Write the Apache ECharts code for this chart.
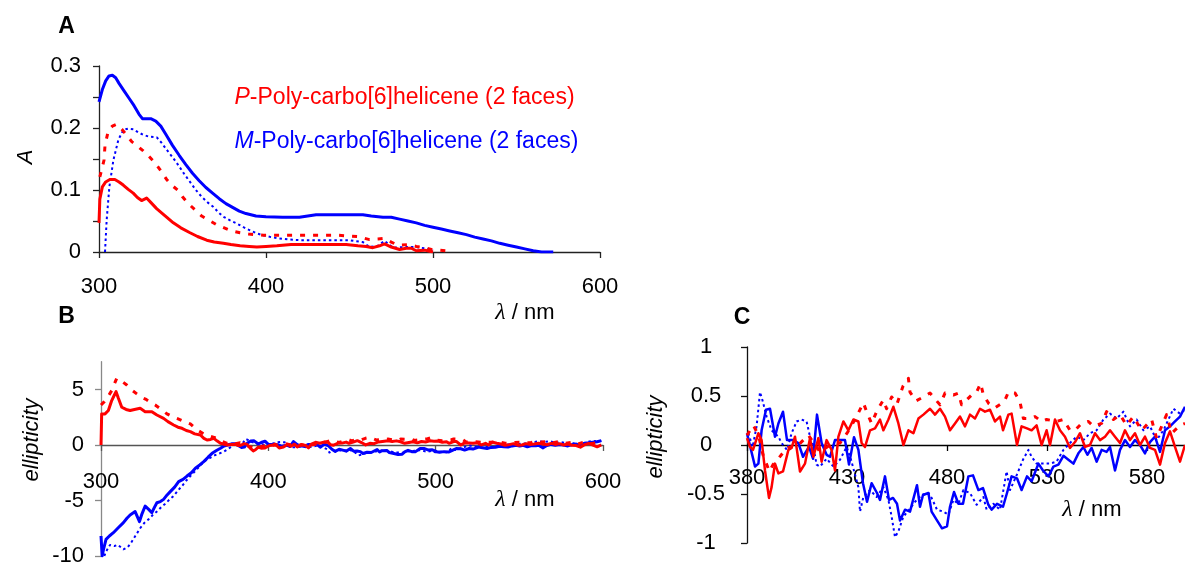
<!DOCTYPE html>
<html><head><meta charset="utf-8">
<script src="https://cdn.jsdelivr.net/npm/echarts@6/dist/echarts.min.js"></script>
<style>html,body{margin:0;padding:0;background:#fff}#c{width:1185px;height:567px}</style>
</head><body><div id="c"></div>
<script>
// ---------- Panel A : absorbance (wavelength nm, A) ----------
const absP_solid = [[300,0.047],[300.5,0.085],[302,0.105],[304,0.113],[306.5,0.117],[309.5,0.117],[312,0.113],[314.5,0.108],[317.5,0.101],[320.5,0.095],[323,0.088],[325.5,0.083],[327,0.085],[328.5,0.087],[331,0.080],[334.5,0.070],[338,0.062],[341,0.055],[344.5,0.047],[349,0.039],[354.5,0.031],[359,0.025],[364.5,0.019],[369,0.016],[374.5,0.014],[379,0.012],[384.5,0.010],[390,0.009],[394.5,0.008],[400,0.009],[406.5,0.010],[415,0.012],[430,0.012],[448,0.012],[455,0.010],[460,0.009],[464,0.007],[468,0.010],[471,0.013],[475,0.008],[480,0.004],[484,0.006],[487,0.006],[490,0.002],[495,0.003],[500,0]];
const absP_dash = [[300.5,0.121],[301.6,0.124],[303,0.148],[303.6,0.172],[305.6,0.196],[308,0.203],[310.6,0.206],[314,0.197],[317,0.187],[319.6,0.178],[323,0.171],[326.5,0.163],[330,0.154],[333.5,0.144],[337,0.131],[340.5,0.117],[343.5,0.108],[347,0.100],[350,0.089],[353.5,0.078],[357.5,0.068],[361.5,0.058],[366,0.051],[370.5,0.044],[375,0.039],[379.5,0.034],[384.5,0.031],[389.5,0.029],[398.5,0.027],[407.5,0.027],[426,0.027],[443,0.027],[455,0.025],[462,0.020],[467,0.021],[471,0.022],[475,0.016],[479,0.011],[485,0.012],[490,0.009],[495,0.007],[499,0.004],[508,0.002]];
const absM_solid = [[300,0.242],[302,0.262],[304,0.276],[306,0.284],[308,0.285],[310,0.281],[312,0.272],[315,0.260],[318,0.248],[321,0.236],[324,0.222],[326,0.215],[331,0.215],[334,0.211],[337,0.203],[340,0.190],[344,0.172],[348,0.156],[352,0.141],[356,0.127],[360,0.115],[364,0.104],[368,0.095],[372,0.086],[376,0.078],[380,0.072],[384,0.066],[388,0.062],[394,0.058],[400,0.057],[410,0.056],[420,0.056],[425,0.058],[430,0.060],[440,0.060],[450,0.060],[458,0.060],[463,0.058],[470,0.056],[475,0.056],[480,0.053],[485,0.050],[490,0.047],[495,0.043],[500,0.040],[505,0.037],[510,0.034],[515,0.031],[520,0.028],[525,0.024],[530,0.021],[535,0.018],[540,0.014],[545,0.011],[550,0.008],[555,0.005],[560,0.002],[565,0],[572,0]];
const absM_dot = [[303.6,0],[304.6,0.052],[306.2,0.105],[308.6,0.148],[311.6,0.181],[314.6,0.197],[317.5,0.199],[320.6,0.198],[323.5,0.193],[326.5,0.189],[330,0.186],[334.6,0.185],[337.5,0.176],[340.5,0.165],[344,0.153],[347.5,0.140],[351,0.126],[354.5,0.113],[358,0.100],[361.5,0.089],[365,0.080],[368.4,0.073],[371.5,0.064],[374.4,0.057],[378.5,0.051],[382.5,0.046],[386.5,0.040],[390.4,0.035],[394.5,0.030],[398.4,0.027],[403,0.024],[407.4,0.022],[414.4,0.020],[421,0.019],[435,0.019],[450,0.019],[458,0.016],[462,0.008],[467,0.010],[471,0.018],[476,0.007],[483,0.008],[490,0.008],[495,0.006],[500,0.003]];

// ---------- CD ellipticity, 300-380 nm part (panel B only) ----------
const cdP1_uv = [[300,0],[300.4,2.8],[302.4,2.8],[304.4,3.1],[306.4,4.0],[308,4.5],[309,4.8],[310.4,4.2],[312.4,3.4],[315,3.2],[317.4,3.1],[320,3.2],[323.4,3.3],[326.4,3.0],[330.4,3.0],[333.4,2.7],[337.4,2.4],[340,2.1],[343.4,1.8],[346,1.6],[348.4,1.5],[351,1.3],[353.4,1.2],[356,1.0],[359.4,0.9],[361.5,0.6],[363.4,0.45],[365.5,0.5],[367.4,0.6],[369.5,0.35],[371.4,0.15],[375.4,0],[378,0.05]];
const cdP2_uv = [[300,3.6],[302,3.9],[304.4,4.4],[306.4,4.9],[308,5.5],[309.4,6.0],[312,5.8],[315.4,5.4],[318,5.0],[321.4,4.6],[324,4.3],[327,4.1],[330,3.8],[332.4,3.6],[336,3.2],[339.4,2.8],[342,2.6],[345.4,2.4],[350,2.1],[353.4,1.9],[357,1.4],[361.4,1.0],[365,0.8],[369.4,0.6],[372,0.35],[375.4,0.15],[378,0.1]];
const cdM1_uv = [[300,-8.2],[300.7,-10],[301.5,-9.4],[303,-8.5],[305,-8.2],[307.4,-7.9],[310,-7.5],[313.4,-7.0],[315.5,-6.6],[317.4,-6.3],[320.4,-6.0],[323,-6.9],[324.5,-6.2],[326.4,-5.5],[328.5,-5.8],[330.4,-6.1],[332,-5.6],[333.4,-5.2],[335.5,-5.1],[337.4,-4.9],[339.5,-4.5],[341.4,-4.2],[344,-3.8],[346.4,-3.3],[349,-3.1],[351.4,-2.8],[354,-2.5],[356.4,-2.1],[359,-1.8],[361.4,-1.5],[364,-1.1],[366.4,-0.75],[369,-0.5],[371.4,-0.3],[373.5,-0.1],[375.4,0],[378,0.1]];
const cdM2_uv = [[302,-10],[303,-9.6],[305.4,-9.0],[308,-9.1],[310,-9.0],[313.4,-9.4],[316,-9.2],[318,-8.8],[320.5,-8.2],[323.4,-7.5],[326,-7.0],[328.4,-6.7],[331,-6.3],[333.4,-6.0],[336,-5.6],[338.4,-5.3],[341,-4.9],[343.4,-4.6],[346,-4.1],[348.4,-3.7],[351,-3.2],[353.4,-2.8],[356,-2.4],[358.4,-2.0],[361,-1.6],[363.4,-1.3],[366,-1.1],[368.4,-0.9],[371,-0.75],[373.4,-0.6],[375.5,-0.4],[377.5,-0.2]];

// ---------- CD ellipticity, 380-600 nm (panels B and C) ----------
const cdP1 = [[380,0.07],[381.5,-0.02],[383,-0.05],[385.7,0.12],[387.3,0.05],[389,-0.26],[391,-0.54],[392.3,-0.43],[394,-0.19],[395.7,-0.29],[398,-0.27],[400.7,-0.05],[402.3,-0.03],[404,0.085],[406.5,-0.27],[409,-0.19],[411.5,0.07],[413.2,-0.12],[415.7,0.07],[417.3,-0.17],[419.8,0.05],[422.3,-0.05],[424,-0.26],[425.7,0.085],[428.2,0.24],[430.7,0.15],[433.2,0.26],[435.7,0.24],[437.3,0.02],[439,-0.02],[441.5,0.15],[444,0.17],[446.5,0.26],[448.2,0.15],[450.7,0.26],[453.2,0.39],[455.7,0.22],[458.2,0],[460.7,0.15],[463.2,0.12],[465.7,0.27],[468.2,0.31],[471.5,0.37],[474,0.31],[476.5,0.37],[479,0.29],[481.5,0.15],[484,0.22],[486.5,0.29],[489,0.19],[491.5,0.31],[494,0.27],[496.5,0.37],[499,0.34],[501.5,0.36],[504,0.24],[506.5,0.29],[508,0.15],[510.7,0.31],[512.3,0.32],[515,0],[517.3,0.19],[520,0.17],[522.3,0.15],[524.8,0.2],[527.3,0],[529.8,0.15],[531.5,0],[534,0.26],[536.5,0.15],[539,0.085],[541.5,-0.03],[544,0.03],[546.5,0.12],[549,-0.02],[551.5,0],[554,0.12],[556.5,0.05],[559,0.085],[561.5,0.15],[564,0.085],[566.5,0.02],[569,0.15],[571.5,0.05],[574,0.12],[576.5,0],[579,0.085],[581.5,-0.03],[584,-0.05],[586.5,-0.2],[589,0.02],[591.5,0.14],[594,-0.02],[596.5,-0.17],[599,0]];
const cdP2 = [[380,0.1],[383.2,0.2],[385.7,0.1],[388,-0.1],[391.2,-0.27],[393,-0.2],[395.7,-0.14],[399.8,-0.03],[405.7,0],[410.7,0.1],[416.5,-0.07],[421.5,0],[426.5,0.02],[430,0.12],[434,0.26],[438.2,0.43],[439.8,0.34],[442.3,0.22],[445,0.35],[448.2,0.46],[449.8,0.37],[452.3,0.49],[455,0.42],[458,0.6],[460.7,0.68],[461.5,0.54],[464.5,0.45],[467.3,0.48],[471.5,0.53],[476.5,0.41],[479,0.53],[483.2,0.51],[485.7,0.53],[487.3,0.41],[489.8,0.46],[492.3,0.51],[494.8,0.54],[496.8,0.63],[498.2,0.51],[501,0.42],[504,0.38],[507,0.42],[509,0.46],[510.7,0.54],[514,0.53],[516.5,0.44],[518.2,0.27],[521.5,0.27],[524,0.29],[527.3,0.24],[529.8,0.26],[534.8,0.24],[538.2,0.26],[541.5,0.15],[544,0.15],[547.3,0.22],[550.7,0.24],[553.2,0.19],[557.3,0.22],[559.8,0.34],[563.2,0.26],[566.5,0.31],[569.8,0.2],[573.2,0.29],[577.3,0.15],[582.3,0.26],[584.8,0.07],[589.8,0.31],[592.3,0.12],[596.5,0.2],[599,0.22]];
const cdM1 = [[380,0.12],[382,-0.05],[384,-0.22],[385.7,-0.19],[387.3,0.15],[389.5,0.36],[391.5,0.37],[394,0.085],[395.7,0.22],[398,0.34],[400,0.05],[403,0.05],[405.7,0.02],[408,-0.12],[411,-0.02],[413,-0.14],[415,0.31],[417.3,0.02],[419.8,-0.1],[421.5,-0.12],[424,0.05],[426.5,0.05],[429,0.05],[431,-0.2],[433.5,0.08],[435.7,-0.05],[438,-0.39],[440,-0.58],[442.3,-0.39],[445,-0.49],[446.5,-0.56],[449,-0.32],[451,-0.56],[453,-0.54],[455,-0.6],[456.5,-0.77],[459,-0.66],[461.5,-0.68],[465,-0.41],[466.5,-0.63],[468,-0.51],[470.7,-0.49],[472.3,-0.68],[475,-0.77],[477.5,-0.85],[480,-0.83],[481.5,-0.63],[483.5,-0.48],[485.7,-0.6],[488,-0.6],[490.7,-0.32],[493,-0.31],[495.7,-0.46],[498,-0.44],[500.7,-0.61],[502.3,-0.66],[505,-0.6],[508,-0.63],[510,-0.49],[512.3,-0.32],[515,-0.34],[517.3,-0.46],[520,-0.32],[522.3,-0.37],[525.7,-0.19],[528,-0.26],[530.7,-0.32],[533.2,-0.22],[535.7,-0.2],[538.2,-0.11],[540.7,-0.15],[543.2,-0.19],[545.7,-0.085],[548.2,-0.02],[550.2,-0.1],[552.3,-0.03],[554.8,-0.17],[557.3,-0.05],[559.8,-0.07],[561.5,-0.02],[564,-0.26],[566.5,-0.05],[569,0.05],[571.5,-0.02],[574,0.05],[576.5,0],[579,-0.085],[581.5,0.03],[584,0.085],[586.5,-0.07],[589,0.15],[591.5,0.19],[594,0.24],[596.5,0.29],[599,0.39]];
const cdM2 = [[380.7,0.12],[382.8,-0.02],[384.8,0.19],[386.5,0.54],[387.7,0.46],[389.8,0.29],[392.3,0.15],[395.7,0.085],[397.3,0.02],[400,-0.05],[402.3,0.12],[404.8,0.24],[407.3,0.26],[409.8,0.24],[411.5,0.085],[413.2,-0.02],[414.8,-0.2],[416.5,-0.22],[419.8,-0.14],[423.2,-0.22],[426.5,-0.15],[429.8,-0.02],[432,-0.15],[434,-0.3],[435.7,-0.43],[436.5,-0.68],[438.2,-0.53],[441.5,-0.46],[444.8,-0.53],[448.2,-0.43],[450.7,-0.56],[452.3,-0.73],[454,-0.94],[455.7,-0.88],[458.2,-0.73],[461.5,-0.65],[464,-0.58],[467.3,-0.51],[470.7,-0.49],[472.3,-0.54],[475,-0.66],[478.2,-0.68],[480.7,-0.71],[483.2,-0.56],[485.7,-0.6],[488.2,-0.46],[491.5,-0.49],[494.8,-0.61],[498.2,-0.53],[499.8,-0.66],[503.2,-0.6],[506.5,-0.66],[508.2,-0.46],[509.8,-0.27],[511.5,-0.46],[515,-0.3],[518,-0.15],[520.7,-0.05],[522.3,-0.12],[524.8,-0.19],[527.3,-0.19],[531.5,-0.19],[534.8,-0.17],[538.2,-0.05],[541.5,0.02],[544.8,0.085],[548.2,0.05],[551.5,0.12],[554.8,0.15],[558.2,0.26],[561.5,0.32],[564.8,0.27],[568.2,0.34],[571.5,0.19],[574.8,0.26],[578.2,0.15],[581.5,0.19],[584.8,0.05],[588.2,0.15],[590.7,0.26],[593.2,0.37],[596.5,0.32],[599,0.36]];

// ---------- tick values ----------
const ticksA_x = [300, 400, 500, 600];
const ticksA_y = [0, 0.05, 0.1, 0.15, 0.2, 0.25, 0.3];
const labelsA_y = [0, 0.1, 0.2, 0.3];
const ticksB_x = [300, 400, 500, 600];
const ticksB_y = [-10, -5, 0, 5];
const ticksC_x = [380, 430, 480, 530, 580];
const ticksC_y = [-1, -0.5, 0, 0.5, 1];

const legendP = 'P-Poly-carbo[6]helicene (2 faces)';
const legendM = 'M-Poly-carbo[6]helicene (2 faces)';

const RED = '#ff0000', BLUE = '#0000ff';
const FONT = '"Liberation Sans", Arial, sans-serif';
const fmt = v => String(+(+v).toFixed(2));

// grid boxes (layout only)
const G = [
  { left: 99, top: 66, width: 501, height: 186 },
  { left: 101, top: 361.7, width: 502, height: 194.3 },
  { left: 747, top: 347, width: 440, height: 196 }
];
const YR = [[0, 0.3], [-10, 7.5], [-1, 1]];
// shift of the x axis from the grid bottom up to the y = 0 line
const zeroOffset = i => -G[i].height * (0 - YR[i][0]) / (YR[i][1] - YR[i][0]);

function lineSer(data, idx, color, kind, w) {
  let ls = { color: color, width: w || 3, cap: 'butt', join: 'round' };
  if (kind === 'dash') ls.type = [5, 8];
  if (kind === 'dot') { ls.type = [2.5, 3]; ls.width = 2; }
  return { type: 'line', xAxisIndex: idx, yAxisIndex: idx, data: data, showSymbol: false,
           symbol: 'none', lineStyle: ls, animation: false, silent: true, z: 3 };
}
function xAx(gi, min, max, tv, lv, lineColor, margin) {
  return { gridIndex: gi, type: 'value', min: min, max: max, position: 'bottom', offset: zeroOffset(gi),
    axisLine: { onZero: false, lineStyle: { color: lineColor, width: 1.3 } },
    axisTick: { show: true, inside: false, length: 6, customValues: tv, lineStyle: { color: lineColor, width: 1.3 } },
    axisLabel: { customValues: lv, margin: margin, fontSize: 22, fontFamily: FONT, color: '#000', formatter: fmt, hideOverlap: false },
    splitLine: { show: false } };
}
function yAx(gi, tv, lv, lineColor, margin, align) {
  return { gridIndex: gi, type: 'value', min: YR[gi][0], max: YR[gi][1],
    axisLine: { show: true, onZero: false, lineStyle: { color: lineColor, width: 1.3 } },
    axisTick: { show: true, inside: false, length: 6, customValues: tv, lineStyle: { color: lineColor, width: 1.3 } },
    axisLabel: { customValues: lv, margin: margin, align: align || 'right', fontSize: 22, fontFamily: FONT, color: '#000', formatter: fmt, hideOverlap: false },
    splitLine: { show: false } };
}
function txt(x, y, text, opt) {
  return Object.assign({ type: 'text', x: x, y: y, silent: true,
    style: Object.assign({ text: text, fontFamily: FONT, fontSize: 22, fill: '#000', align: 'center', verticalAlign: 'middle' }, opt.style || {}) },
    opt.rotation ? { rotation: opt.rotation } : {});
}

const chart = echarts.init(document.getElementById('c'), null, { renderer: 'canvas', width: 1185, height: 567 });
chart.setOption({
  backgroundColor: '#fff',
  animation: false,
  grid: G.map(g => Object.assign({ containLabel: false, outerBoundsMode: 'none' }, g)),
  xAxis: [
    xAx(0, 300, 600, ticksA_x, ticksA_x, '#222', 24),
    xAx(1, 300, 600, ticksB_x, ticksB_x, '#555', 26),
    xAx(2, 380, 600, ticksC_x, ticksC_x, '#000', 22)
  ],
  yAxis: [
    yAx(0, ticksA_y, labelsA_y, '#222', 18),
    yAx(1, ticksB_y, ticksB_y, '#888', 17),
    yAx(2, ticksC_y, ticksC_y, '#111', 41, 'center')
  ],
  series: [
    lineSer(absM_solid, 0, BLUE, 'solid'),
    lineSer(absM_dot, 0, BLUE, 'dot'),
    lineSer(absP_solid, 0, RED, 'solid'),
    lineSer(absP_dash, 0, RED, 'dash'),
    lineSer(cdM1_uv.concat(cdM1), 1, BLUE, 'solid'),
    lineSer(cdM2_uv.concat(cdM2), 1, BLUE, 'dot'),
    lineSer(cdP1_uv.concat(cdP1), 1, RED, 'solid'),
    lineSer(cdP2_uv.concat(cdP2), 1, RED, 'dash'),
    lineSer(cdM1, 2, BLUE, 'solid', 2.5),
    lineSer(cdM2, 2, BLUE, 'dot'),
    lineSer(cdP1, 2, RED, 'solid', 2.5),
    lineSer(cdP2, 2, RED, 'dash')
  ],
  graphic: [
    txt(66.5, 27, 'A', { style: { fontWeight: 'bold', fontSize: 23 } }),
    txt(66.5, 317, 'B', { style: { fontWeight: 'bold', fontSize: 23 } }),
    txt(742, 318, 'C', { style: { fontWeight: 'bold', fontSize: 23 } }),
    txt(26, 157, 'A', { rotation: Math.PI / 2, style: { fontStyle: 'italic' } }),
    txt(32, 440, 'ellipticity', { rotation: Math.PI / 2, style: { fontStyle: 'italic' } }),
    txt(656, 437, 'ellipticity', { rotation: Math.PI / 2, style: { fontStyle: 'italic' } }),
    txt(525, 313, '{l|λ} / nm', { style: { rich: { l: { fontStyle: 'italic', fontFamily: '"Liberation Serif", serif', fontSize: 24 } } } }),
    txt(525, 500, '{l|λ} / nm', { style: { rich: { l: { fontStyle: 'italic', fontFamily: '"Liberation Serif", serif', fontSize: 24 } } } }),
    txt(1092, 510, '{l|λ} / nm', { style: { rich: { l: { fontStyle: 'italic', fontFamily: '"Liberation Serif", serif', fontSize: 24 } } } }),
    txt(234.5, 98, '{i|' + legendP.charAt(0) + '}' + legendP.slice(1), { style: { align: 'left', fill: RED, fontSize: 23, rich: { i: { fontStyle: 'italic', fill: RED, fontSize: 23, fontFamily: FONT } } } }),
    txt(234.5, 142, '{i|' + legendM.charAt(0) + '}' + legendM.slice(1), { style: { align: 'left', fill: BLUE, fontSize: 23, rich: { i: { fontStyle: 'italic', fill: BLUE, fontSize: 23, fontFamily: FONT } } } })
  ]
});
</script></body></html>
